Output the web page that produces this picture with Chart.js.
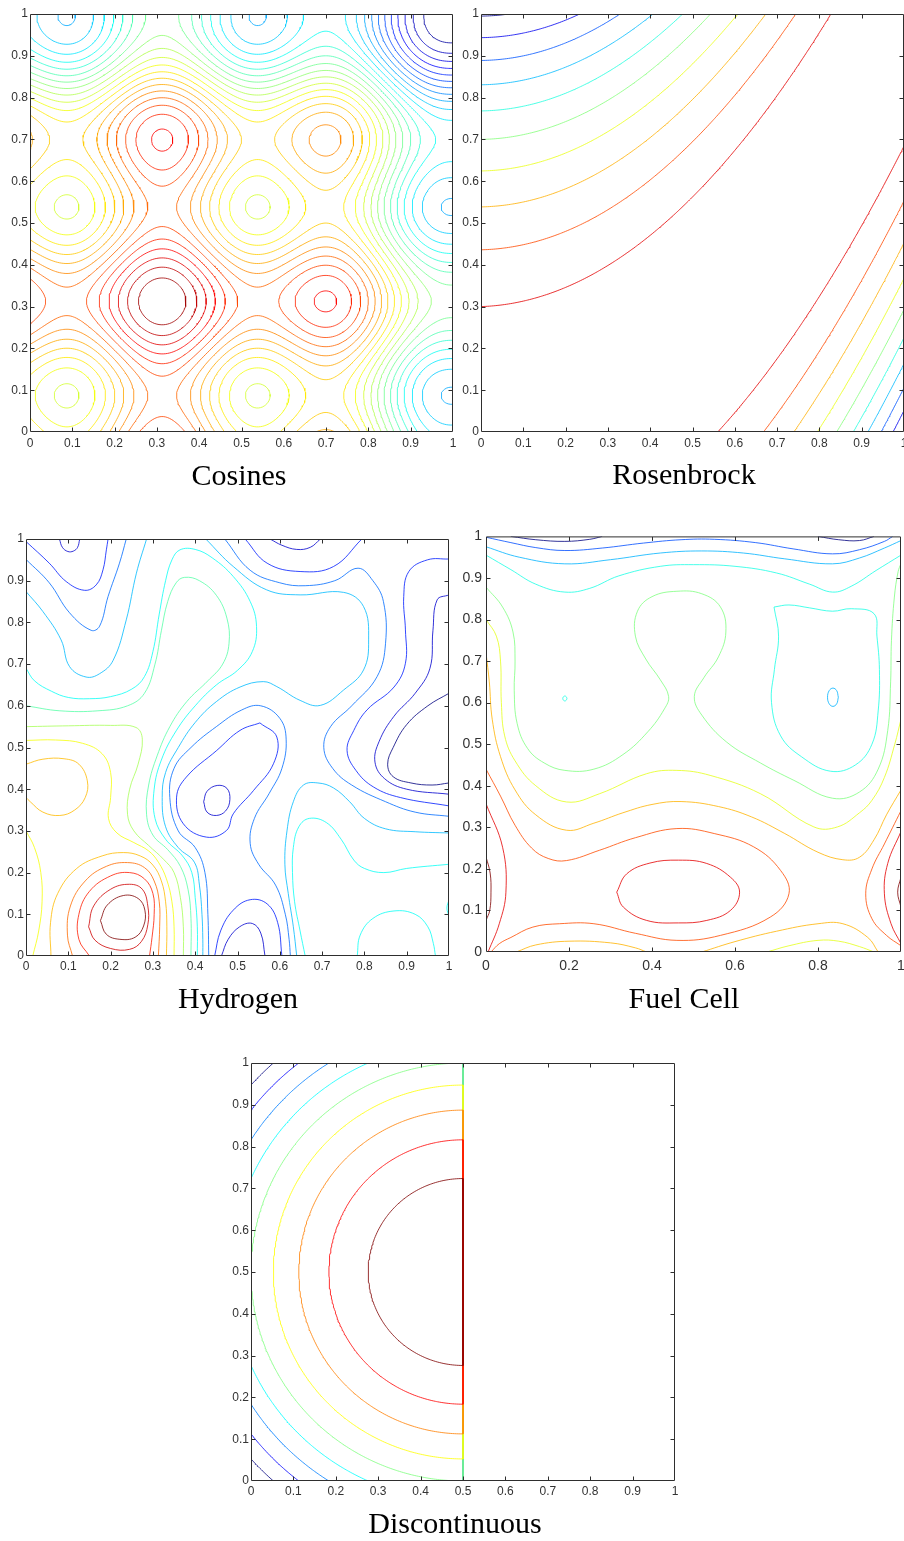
<!DOCTYPE html>
<html>
<head>
<meta charset="utf-8">
<title>Test functions</title>
<script src="https://cdn.jsdelivr.net/npm/chart.js@4.4.1/dist/chart.umd.min.js"></script>
<style>
  html, body { margin: 0; padding: 0; background: #fff; }
  body { position: relative; width: 904px; height: 1541px; overflow: hidden; }
  canvas { position: absolute; }
  .caption { position: absolute; transform: translateX(-50%); font: 30px/30px "Liberation Serif", "Times New Roman", serif; color: #000; white-space: nowrap; }
</style>
</head>
<body>
<canvas id="cosines"></canvas>
<canvas id="rosenbrock"></canvas>
<canvas id="hydrogen"></canvas>
<canvas id="fuelcell"></canvas>
<canvas id="discontinuous"></canvas>
<div class="caption" style="left:239px;top:460px">Cosines</div>
<div class="caption" style="left:684px;top:459px">Rosenbrock</div>
<div class="caption" style="left:238px;top:983px">Hydrogen</div>
<div class="caption" style="left:684px;top:983px">Fuel Cell</div>
<div class="caption" style="left:455px;top:1508px">Discontinuous</div>
<script>
// tick values
const ticksTenth = [0, 0.1, 0.2, 0.3, 0.4, 0.5, 0.6, 0.7, 0.8, 0.9, 1];
const ticksFifth = [0, 0.2, 0.4, 0.6, 0.8, 1];

// contour levels, ordered from the blue end to the red end of the colour map
const cosinesLevels = [-1.664, -1.555, -1.446, -1.338, -1.229, -1.120, -1.011, -0.902, -0.794, -0.685,
  -0.576, -0.467, -0.359, -0.250, -0.141, -0.032, 0.076, 0.185, 0.294, 0.403,
  0.512, 0.620, 0.729, 0.838, 0.947, 1.055, 1.164, 1.273, 1.382, 1.491];
const rosenbrockLevels = [-100, -90, -80, -70, -60, -50, -40, -30, -20, -10];
const discontinuousLevels = [-0.45, -0.4, -0.35, -0.3, -0.25, -0.2, -0.15, -0.1, -0.05];

// Hydrogen: contours as [level index, points], 0 = dark blue, 13 = dark red
const hydrogenLevelCount = 14;
const hydrogenLines = [
  // top left valley
  [1, [[0.079,1],[0.086,0.98],[0.099,0.97],[0.112,0.971],[0.122,0.98],[0.127,1]]],
  [2, [[0,0.994],[0.055,0.942],[0.095,0.898],[0.138,0.877],[0.166,0.89],[0.182,0.926],[0.19,0.974],[0.194,1]]],
  [3, [[0,0.951],[0.055,0.895],[0.103,0.823],[0.154,0.781],[0.174,0.791],[0.194,0.862],[0.221,0.942],[0.237,1]]],
  [4, [[0,0.874],[0.04,0.826],[0.083,0.758],[0.103,0.694],[0.142,0.669],[0.174,0.677],[0.206,0.709],[0.237,0.806],[0.261,0.918],[0.285,1]]],
  // band between the peak and the valleys
  [5, [[0,0.69],[0.02,0.66],[0.06,0.635],[0.1,0.62],[0.15,0.617],[0.2,0.622],[0.25,0.64],[0.28,0.67],[0.3,0.73],[0.315,0.82],[0.33,0.9],[0.345,0.95],[0.364,0.974],[0.4,0.975],[0.44,0.955],[0.49,0.91],[0.53,0.85],[0.545,0.79],[0.535,0.73],[0.5,0.685],[0.45,0.65],[0.4,0.6],[0.355,0.54],[0.32,0.47],[0.303,0.4],[0.305,0.33],[0.33,0.28],[0.37,0.24],[0.392,0.2],[0.4,0.14],[0.405,0.07],[0.405,0]]],
  [6, [[0,0.6],[0.08,0.588],[0.17,0.588],[0.24,0.6],[0.28,0.63],[0.305,0.7],[0.32,0.78],[0.335,0.85],[0.355,0.895],[0.375,0.908],[0.41,0.9],[0.45,0.865],[0.475,0.81],[0.48,0.75],[0.465,0.7],[0.43,0.66],[0.38,0.61],[0.34,0.55],[0.31,0.48],[0.29,0.41],[0.285,0.34],[0.3,0.29],[0.335,0.255],[0.365,0.215],[0.383,0.16],[0.39,0.09],[0.39,0]]],
  [7, [[0,0.55],[0.1,0.552],[0.2,0.553],[0.26,0.548],[0.275,0.52],[0.265,0.46],[0.245,0.4],[0.24,0.34],[0.255,0.3],[0.29,0.265],[0.325,0.232],[0.35,0.2],[0.365,0.14],[0.372,0.07],[0.372,0]]],
  [8, [[0,0.517],[0.07,0.518],[0.134,0.51],[0.18,0.485],[0.2,0.44],[0.2,0.38],[0.195,0.33],[0.215,0.295],[0.255,0.272],[0.29,0.252],[0.313,0.225],[0.332,0.185],[0.345,0.13],[0.35,0.07],[0.35,0]]],
  [8, [[0.016,0],[0.03,0.06],[0.038,0.13],[0.035,0.2],[0.02,0.26],[0,0.3]]],
  [9, [[0,0.46],[0.04,0.472],[0.09,0.473],[0.125,0.46],[0.145,0.42],[0.14,0.38],[0.115,0.35],[0.08,0.337],[0.04,0.345],[0.01,0.37],[0,0.38]]],
  // main peak
  [9, [[0.059,0],[0.058,0.08],[0.075,0.15],[0.12,0.21],[0.18,0.24],[0.23,0.248],[0.27,0.24],[0.3,0.218],[0.32,0.18],[0.33,0.13],[0.333,0.07],[0.332,0]]],
  [10, [[0.11,0],[0.098,0.05],[0.105,0.12],[0.14,0.18],[0.19,0.215],[0.24,0.224],[0.28,0.212],[0.303,0.18],[0.315,0.13],[0.316,0.07],[0.313,0]]],
  [11, [[0.15,0],[0.125,0.04],[0.125,0.1],[0.15,0.155],[0.2,0.192],[0.245,0.2],[0.28,0.185],[0.3,0.15],[0.303,0.1],[0.298,0.045],[0.292,0]]],
  [12, [[0.148,0.07],[0.16,0.12],[0.2,0.16],[0.245,0.172],[0.275,0.16],[0.288,0.12],[0.288,0.075],[0.273,0.035],[0.245,0.016],[0.2,0.018],[0.163,0.038],[0.148,0.07]]],
  [13, [[0.176,0.085],[0.192,0.122],[0.23,0.145],[0.265,0.138],[0.281,0.11],[0.278,0.072],[0.258,0.045],[0.222,0.04],[0.19,0.052],[0.176,0.085]]],
  // middle valley and bottom valley
  [1, [[0.42,0.37],[0.428,0.395],[0.452,0.409],[0.475,0.402],[0.482,0.375],[0.472,0.348],[0.45,0.337],[0.428,0.345],[0.42,0.37]]],
  [2, [[0.553,0.559],[0.593,0.525],[0.585,0.461],[0.538,0.397],[0.49,0.341],[0.474,0.301],[0.427,0.285],[0.372,0.317],[0.356,0.381],[0.379,0.429],[0.451,0.493],[0.506,0.541],[0.553,0.559]]],
  [3, [[0.432,0],[0.43,0.1],[0.423,0.2],[0.4,0.26],[0.36,0.3],[0.34,0.38],[0.35,0.45],[0.39,0.5],[0.45,0.55],[0.51,0.59],[0.555,0.6],[0.6,0.57],[0.615,0.52],[0.605,0.45],[0.575,0.39],[0.54,0.33],[0.53,0.27],[0.55,0.22],[0.59,0.17],[0.613,0.1],[0.622,0.04],[0.625,0]]],
  [2, [[0.446,0],[0.46,0.06],[0.49,0.11],[0.53,0.135],[0.57,0.125],[0.595,0.08],[0.605,0]]],
  [1, [[0.462,0],[0.478,0.04],[0.505,0.07],[0.535,0.078],[0.555,0.055],[0.565,0]]],
  [4, [[0.425,1],[0.49,0.934],[0.569,0.878],[0.648,0.866],[0.751,0.872],[0.798,0.838],[0.81,0.758],[0.798,0.686],[0.751,0.638],[0.696,0.601],[0.648,0.613],[0.593,0.646],[0.561,0.658],[0.506,0.645],[0.45,0.61],[0.4,0.56],[0.36,0.5],[0.33,0.44],[0.322,0.38],[0.33,0.31],[0.36,0.26],[0.398,0.225],[0.41,0.17],[0.416,0.1],[0.418,0.04],[0.418,0]]],
  [4, [[0.64,0],[0.632,0.07],[0.62,0.15],[0.612,0.22],[0.617,0.3],[0.632,0.37],[0.656,0.41],[0.69,0.415],[0.727,0.403],[0.765,0.37],[0.8,0.33],[0.85,0.305],[0.92,0.298],[1,0.295]]],
  [5, [[1,0.22],[0.9,0.21],[0.846,0.2],[0.8,0.21],[0.775,0.23],[0.745,0.28],[0.71,0.32],[0.67,0.33],[0.645,0.31],[0.632,0.26],[0.63,0.2],[0.635,0.13],[0.648,0.06],[0.66,0]]],
  [5, [[0.783,0],[0.79,0.05],[0.82,0.09],[0.87,0.108],[0.92,0.1],[0.95,0.07],[0.963,0.03],[0.968,0]]],
  [5, [[1,0.135],[0.995,0.115],[1,0.095]]],
  // top and right valleys
  [1, [[0.577,1],[0.605,0.985],[0.64,0.975],[0.672,0.98],[0.696,1]]],
  [2, [[0.518,1],[0.57,0.942],[0.648,0.922],[0.727,0.934],[0.794,1]]],
  [3, [[0.47,1],[0.53,0.925],[0.6,0.895],[0.66,0.888],[0.73,0.9],[0.785,0.93],[0.82,0.9],[0.845,0.85],[0.85,0.75],[0.83,0.67],[0.77,0.6],[0.72,0.55],[0.704,0.5],[0.725,0.45],[0.77,0.41],[0.85,0.37],[0.92,0.345],[1,0.335]]],
  [2, [[1,0.952],[0.949,0.95],[0.905,0.922],[0.893,0.862],[0.897,0.782],[0.897,0.702],[0.87,0.645],[0.806,0.59],[0.775,0.541],[0.759,0.493],[0.78,0.445],[0.822,0.405],[0.885,0.38],[1,0.36]]],
  [1, [[1,0.866],[0.972,0.854],[0.962,0.78],[0.955,0.69],[0.92,0.63],[0.87,0.575],[0.835,0.515],[0.825,0.465],[0.848,0.425],[0.9,0.4],[1,0.388]]],
  [0, [[1,0.63],[0.95,0.6],[0.9,0.555],[0.868,0.5],[0.855,0.46],[0.868,0.43],[0.91,0.415],[0.96,0.41],[1,0.415]]]
];

// Fuel Cell: contours as [level index, points], 0 = dark blue, 10 = dark red
const fuelCellLevelCount = 11;
const fuelCellLines = [
  [0, [[0.06,1],[0.12,0.992],[0.19,0.988],[0.25,0.993],[0.28,1]]],
  [0, [[0.8,1],[0.85,0.992],[0.9,0.99],[0.935,1]]],
  [2, [[0,0.998],[0.06,0.985],[0.12,0.973],[0.19,0.966],[0.28,0.972],[0.38,0.984],[0.47,0.992],[0.55,0.993],[0.65,0.985],[0.74,0.97],[0.835,0.958],[0.9,0.968],[0.96,0.988],[0.98,1]]],
  [3, [[0,0.975],[0.08,0.95],[0.19,0.934],[0.3,0.944],[0.42,0.96],[0.52,0.965],[0.62,0.96],[0.72,0.946],[0.835,0.934],[0.9,0.948],[0.96,0.972],[1,0.99]]],
  [3, [[0.849,0.613],[0.845,0.629],[0.836,0.635],[0.827,0.629],[0.823,0.613],[0.827,0.597],[0.836,0.591],[0.845,0.597],[0.849,0.613]]],
  [4, [[0,0.955],[0.06,0.92],[0.12,0.885],[0.19,0.866],[0.25,0.875],[0.32,0.905],[0.42,0.928],[0.5,0.932],[0.6,0.928],[0.7,0.912],[0.78,0.885],[0.835,0.866],[0.88,0.88],[0.94,0.918],[1,0.955]]],
  [4, [[0.694,0.83],[0.705,0.76],[0.695,0.68],[0.688,0.6],[0.71,0.52],[0.76,0.47],[0.83,0.435],[0.89,0.45],[0.93,0.5],[0.945,0.58],[0.948,0.68],[0.942,0.76],[0.935,0.814],[0.88,0.826],[0.835,0.82],[0.78,0.828],[0.73,0.835],[0.694,0.83]]],
  [4, [[0.195,0.61],[0.1935,0.614],[0.19,0.616],[0.1865,0.614],[0.185,0.61],[0.1865,0.606],[0.19,0.604],[0.1935,0.606],[0.195,0.61]]],
  [5, [[0,0.878],[0.04,0.83],[0.065,0.77],[0.07,0.7],[0.068,0.63],[0.075,0.55],[0.1,0.49],[0.14,0.455],[0.19,0.437],[0.26,0.44],[0.33,0.475],[0.39,0.53],[0.43,0.585],[0.44,0.615],[0.42,0.655],[0.385,0.705],[0.36,0.76],[0.365,0.82],[0.4,0.855],[0.46,0.868],[0.52,0.862],[0.565,0.83],[0.578,0.77],[0.56,0.71],[0.525,0.66],[0.502,0.615],[0.52,0.57],[0.58,0.505],[0.661,0.455],[0.742,0.413],[0.835,0.37],[0.9,0.385],[0.945,0.44],[0.968,0.533],[0.975,0.65],[0.977,0.75],[0.984,0.854],[0.993,0.915],[1,0.935]]],
  [6, [[0,0.8],[0.025,0.76],[0.035,0.7],[0.037,0.6],[0.045,0.52],[0.07,0.46],[0.12,0.4],[0.194,0.361],[0.274,0.381],[0.387,0.429],[0.46,0.437],[0.54,0.425],[0.661,0.381],[0.79,0.301],[0.847,0.301],[0.9,0.335],[0.93,0.365],[0.96,0.42],[0.985,0.5],[1,0.56]]],
  [6, [[0.677,0],[0.73,0.015],[0.8,0.028],[0.85,0.026],[0.9,0.013],[0.935,0]]],
  [7, [[0,0.72],[0.008,0.65],[0.015,0.56],[0.035,0.47],[0.07,0.39],[0.12,0.33],[0.194,0.293],[0.26,0.31],[0.33,0.335],[0.4,0.355],[0.47,0.362],[0.56,0.35],[0.64,0.325],[0.72,0.285],[0.8,0.24],[0.86,0.222],[0.9,0.228],[0.935,0.27],[0.965,0.33],[1,0.39]]],
  [7, [[0.073,0],[0.12,0.017],[0.2,0.026],[0.3,0.022],[0.36,0.01],[0.387,0]]],
  [7, [[0.52,0],[0.6,0.025],[0.7,0.05],[0.8,0.068],[0.86,0.068],[0.92,0.035],[0.945,0]]],
  [8, [[0,0.44],[0.035,0.375],[0.07,0.305],[0.11,0.25],[0.15,0.225],[0.194,0.22],[0.274,0.245],[0.36,0.275],[0.46,0.297],[0.55,0.285],[0.645,0.253],[0.71,0.196],[0.73,0.14],[0.685,0.084],[0.565,0.04],[0.46,0.028],[0.36,0.045],[0.26,0.068],[0.177,0.068],[0.113,0.06],[0.06,0.035],[0.032,0.02],[0.012,0]]],
  [8, [[1,0.34],[0.96,0.26],[0.93,0.2],[0.915,0.14],[0.93,0.08],[0.965,0.04],[1,0.015]]],
  [9, [[0.315,0.144],[0.339,0.188],[0.395,0.214],[0.464,0.221],[0.532,0.213],[0.589,0.18],[0.611,0.144],[0.589,0.1],[0.532,0.076],[0.464,0.07],[0.387,0.076],[0.331,0.108],[0.315,0.144]]],
  [9, [[0,0.357],[0.04,0.252],[0.048,0.144],[0.032,0.068],[0.005,0]]],
  [9, [[1,0.29],[0.968,0.213],[0.96,0.14],[0.976,0.068],[1,0.02]]],
  [10, [[0,0.229],[0.01,0.19],[0.012,0.144],[0.009,0.1],[0,0.076]]],
  [10, [[1,0.18],[0.992,0.144],[1,0.108]]]
];

// test functions sampled on the grid
function cosines(x, y) {
  const part = t => { const u = 1.6 * t - 0.5; return u * u - 0.3 * Math.cos(3 * Math.PI * u); };
  return 1 - part(x) - part(y);
}
function rosenbrock(x, y) {
  return -(100 * (y - x * x) ** 2 + (1 - x) ** 2);
}
function discontinuous(x, y) {
  return x <= 0.5 ? -((x - 0.5) ** 2 + (y - 0.5) ** 2) : -10;
}

function jet(t) {
  const c = v => Math.round(255 * Math.max(0, Math.min(1, v)));
  return 'rgba(' + c(1.5 - Math.abs(4 * t - 3)) + ',' + c(1.5 - Math.abs(4 * t - 2)) + ',' + c(1.5 - Math.abs(4 * t - 1)) + ',0.8)';
}

// marching squares, segments chained into polylines
function traceLevel(z, n, level) {
  const m = n + 1, pts = new Map(), segs = [];
  const P = (key, make) => { if (!pts.has(key)) pts.set(key, make()); return key; };
  for (let j = 0; j < n; j++) {
    for (let i = 0; i < n; i++) {
      const a = z[j * m + i], b = z[j * m + i + 1], c = z[(j + 1) * m + i + 1], d = z[(j + 1) * m + i];
      const idx = (a > level) | ((b > level) << 1) | ((c > level) << 2) | ((d > level) << 3);
      if (idx === 0 || idx === 15) continue;
      const B = () => P('h' + i + '_' + j, () => ({x: (i + (level - a) / (b - a)) / n, y: j / n}));
      const R = () => P('v' + (i + 1) + '_' + j, () => ({x: (i + 1) / n, y: (j + (level - b) / (c - b)) / n}));
      const T = () => P('h' + i + '_' + (j + 1), () => ({x: (i + (level - d) / (c - d)) / n, y: (j + 1) / n}));
      const L = () => P('v' + i + '_' + j, () => ({x: i / n, y: (j + (level - a) / (d - a)) / n}));
      const centre = (a + b + c + d) / 4 > level;
      switch (idx) {
        case 1: case 14: segs.push([B(), L()]); break;
        case 2: case 13: segs.push([B(), R()]); break;
        case 3: case 12: segs.push([L(), R()]); break;
        case 4: case 11: segs.push([R(), T()]); break;
        case 6: case 9: segs.push([B(), T()]); break;
        case 7: case 8: segs.push([L(), T()]); break;
        case 5: if (centre) segs.push([B(), R()], [L(), T()]); else segs.push([B(), L()], [R(), T()]); break;
        case 10: if (centre) segs.push([B(), L()], [R(), T()]); else segs.push([B(), R()], [L(), T()]); break;
      }
    }
  }
  const byKey = new Map();
  segs.forEach((s, k) => s.forEach(key => { if (!byKey.has(key)) byKey.set(key, []); byKey.get(key).push(k); }));
  const used = new Uint8Array(segs.length);
  const walk = start => {
    const out = [];
    let cur = start;
    for (;;) {
      const next = byKey.get(cur).find(k => !used[k]);
      if (next === undefined) break;
      used[next] = 1;
      const s = segs[next];
      cur = s[0] === cur ? s[1] : s[0];
      out.push(cur);
    }
    return out;
  };
  const lines = [];
  segs.forEach((s, k) => {
    if (used[k]) return;
    used[k] = 1;
    const fwd = walk(s[1]);
    const back = walk(s[0]).reverse();
    lines.push(back.concat(s, fwd).map(key => pts.get(key)));
  });
  return lines;
}

// colour limits of each field
function fieldDatasets(field, levels, n, cmin, cmax) {
  const m = n + 1, z = new Float64Array(m * m);
  for (let j = 0; j < m; j++) for (let i = 0; i < m; i++) z[j * m + i] = field(i / n, j / n);
  const sets = [];
  levels.forEach(level => {
    const colour = jet((level - cmin) / (cmax - cmin));
    traceLevel(z, n, level).forEach(line => sets.push({data: line, borderColor: colour, tension: 0}));
  });
  return sets.reverse();
}

function tracedDatasets(lines, count) {
  const sets = lines.map(([k, pts]) => ({
    level: k,
    data: pts.map(([x, y]) => ({x, y})),
    borderColor: jet(k / (count - 1)),
    tension: 0.4
  }));
  sets.sort((a, b) => b.level - a.level);
  return sets;
}

const frameTicks = {
  id: 'frameTicks',
  afterDatasetsDraw(chart, args, opts) {
    const {ctx, chartArea: a, scales} = chart;
    const l = a.left + 0.5, r = a.right - 0.5, t = a.top + 0.5, b = a.bottom - 0.5, len = opts.len;
    ctx.save();
    ctx.strokeStyle = '#2e2e2e';
    ctx.lineWidth = 1;
    ctx.beginPath();
    ctx.rect(l, t, r - l, b - t);
    scales.x.ticks.forEach(tk => {
      const p = Math.round(scales.x.getPixelForValue(tk.value)) + 0.5;
      if (p <= l + 1 || p >= r - 1) return;
      ctx.moveTo(p, b); ctx.lineTo(p, b - len);
      ctx.moveTo(p, t); ctx.lineTo(p, t + len);
    });
    scales.y.ticks.forEach(tk => {
      const p = Math.round(scales.y.getPixelForValue(tk.value)) + 0.5;
      if (p <= t + 1 || p >= b - 1) return;
      ctx.moveTo(l, p); ctx.lineTo(l + len, p);
      ctx.moveTo(r, p); ctx.lineTo(r - len, p);
    });
    ctx.stroke();
    ctx.restore();
  }
};

const panels = [
  {id: 'cosines', left: 30, top: 14, width: 423, height: 418, xTicks: ticksTenth, font: 12, xPad: 4.3, yPad: 2},
  {id: 'rosenbrock', left: 481, top: 14, width: 423, height: 418, xTicks: ticksTenth, font: 12, xPad: 4.3, yPad: 2},
  {id: 'hydrogen', left: 26, top: 539, width: 423, height: 417, xTicks: ticksTenth, font: 12, xPad: 3.5, yPad: 2},
  {id: 'fuelcell', left: 486, top: 536, width: 415, height: 416, xTicks: ticksFifth, font: 14, xPad: 5.3, yPad: 4},
  {id: 'discontinuous', left: 251, top: 1063, width: 424, height: 418, xTicks: ticksTenth, font: 12, xPad: 3.5, yPad: 2}
];

function draw(panel, datasets) {
  const padL = 44, padT = 12, padR = 12, padB = 36;
  const canvas = document.getElementById(panel.id);
  canvas.width = padL + panel.width + padR;
  canvas.height = padT + panel.height + padB;
  canvas.style.left = (panel.left - padL) + 'px';
  canvas.style.top = (panel.top - padT) + 'px';
  const tickFont = {family: 'Liberation Sans', size: panel.font};
  new Chart(canvas, {
    type: 'scatter',
    data: {datasets},
    options: {
      responsive: false,
      animation: false,
      devicePixelRatio: 1,
      events: [],
      layout: {padding: {top: padT, right: padR, left: 0, bottom: 0}},
      elements: {point: {radius: 0}, line: {borderWidth: 1}},
      datasets: {scatter: {showLine: true}},
      plugins: {legend: {display: false}, tooltip: {enabled: false}, frameTicks: {len: 4}},
      scales: {
        x: {
          type: 'linear', min: 0, max: 1,
          grid: {display: false, drawTicks: false}, border: {display: false},
          afterBuildTicks: s => { s.ticks = panel.xTicks.map(v => ({value: v})); },
          afterFit: s => { s.height = padB; },
          ticks: {padding: panel.xPad, font: tickFont, color: '#333', maxRotation: 0, autoSkip: false, callback: v => String(v)}
        },
        y: {
          type: 'linear', min: 0, max: 1,
          grid: {display: false, drawTicks: false}, border: {display: false},
          afterBuildTicks: s => { s.ticks = ticksTenth.map(v => ({value: v})); },
          afterFit: s => { s.width = padL; },
          ticks: {padding: panel.yPad, font: tickFont, color: '#333', autoSkip: false, callback: v => String(v)}
        }
      }
    },
    plugins: [frameTicks]
  });
}

draw(panels[0], fieldDatasets(cosines, cosinesLevels, 200, -1.773, 1.600));
draw(panels[1], fieldDatasets(rosenbrock, rosenbrockLevels, 200, -101, 0));
draw(panels[2], tracedDatasets(hydrogenLines, hydrogenLevelCount));
draw(panels[3], tracedDatasets(fuelCellLines, fuelCellLevelCount));
draw(panels[4], fieldDatasets(discontinuous, discontinuousLevels, 200, -0.45, -0.05));
</script>
</body>
</html>
